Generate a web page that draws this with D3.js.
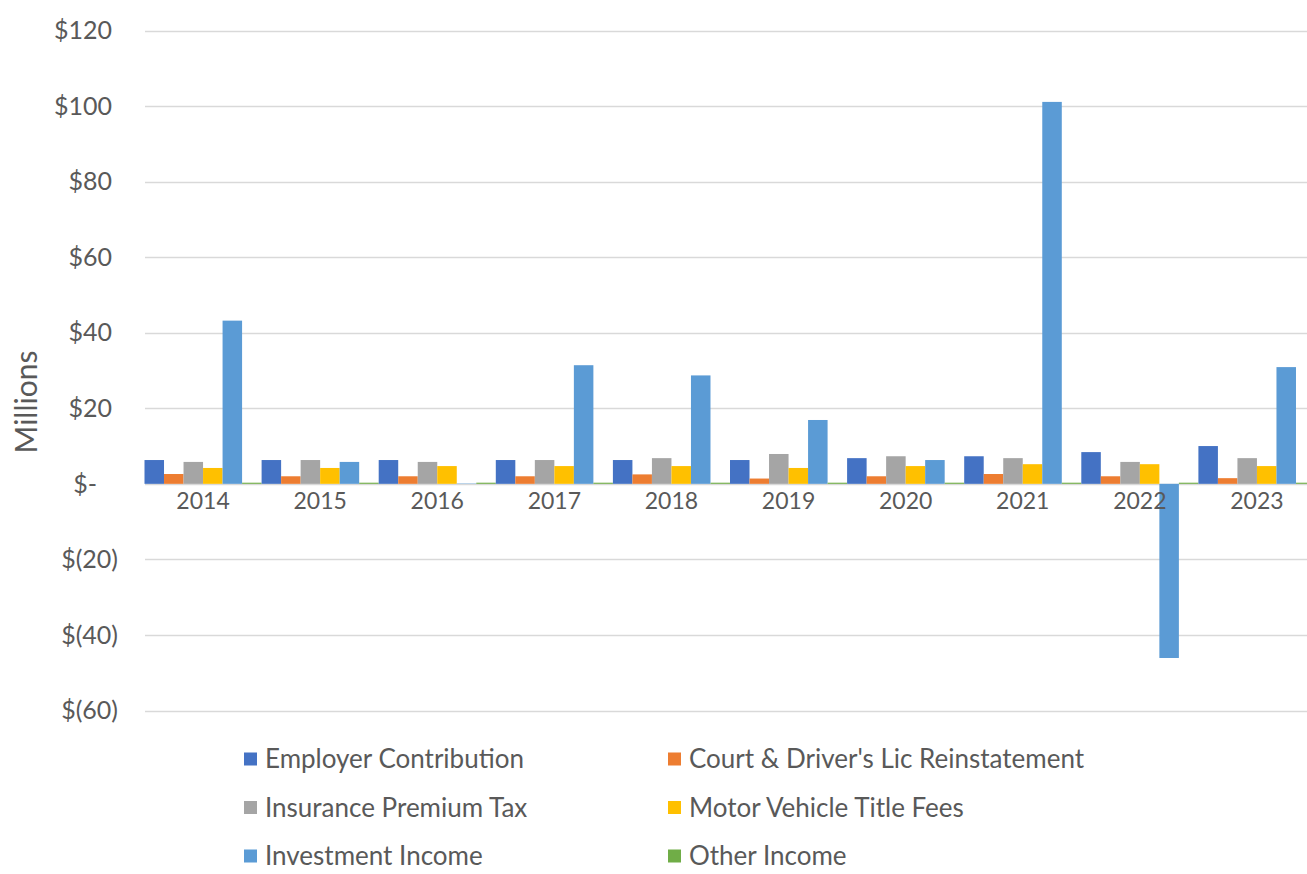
<!DOCTYPE html>
<html>
<head>
<meta charset="utf-8">
<script src="https://cdn.jsdelivr.net/npm/d3@7"></script>
<style>
  body { margin: 0; background: #fff; }
  svg { display: block; font-family: Lato, "Open Sans", sans-serif; }
</style>
</head>
<body>
<div id="chart"></div>
<script>
let years = ["2014", "2015", "2016", "2017", "2018", "2019", "2020", "2021", "2022", "2023"];

let seriesNames = [
  "Employer Contribution",
  "Court & Driver's Lic Reinstatement",
  "Insurance Premium Tax",
  "Motor Vehicle Title Fees",
  "Investment Income",
  "Other Income"
];

let seriesColors = ["#4472C4", "#ED7D31", "#A5A5A5", "#FFC000", "#5B9BD5", "#70AD47"];

// millions of dollars, one value per year
let employer   = [6.3, 6.3, 6.3, 6.3, 6.3, 6.3, 6.8, 7.3, 8.4, 10.0];
let court      = [2.6, 2.0, 2.0, 2.0, 2.5, 1.4, 2.0, 2.6, 2.0, 1.5];
let insurance  = [5.8, 6.3, 5.8, 6.3, 6.8, 7.9, 7.3, 6.8, 5.8, 6.8];
let motor      = [4.2, 4.2, 4.7, 4.7, 4.7, 4.2, 4.7, 5.2, 5.2, 4.7];
let investment = [43.2, 5.8, 0.1, 31.4, 28.7, 16.9, 6.3, 101.1, -46.1, 30.9];
let other      = [0.3, 0.3, 0.3, 0.3, 0.3, 0.3, 0.3, 0.3, 0.3, 0.3];

let yTicks = [120, 100, 80, 60, 40, 20, 0, -20, -40, -60];

let seriesValues = [employer, court, insurance, motor, investment, other];

let width = 1307, height = 874;

let svg = d3.select("#chart")
    .append("svg")
    .attr("width", width)
    .attr("height", height);

let x = d3.scaleBand()
    .domain(years)
    .range([144.5, 1315.5])
    .paddingInner(0)
    .paddingOuter(0);

let xs = d3.scaleBand()
    .domain(seriesNames)
    .range([0, x.bandwidth()]);

let y = d3.scaleLinear()
    .domain([-60, 120])
    .range([710.5, 30.5]);

let textColor = "#595959";

// gridlines
svg.append("g")
    .attr("class", "grid")
    .selectAll("line")
    .data(yTicks)
    .enter().append("line")
    .attr("x1", 145)
    .attr("x2", width)
    .attr("y1", d => Math.round(y(d)) + 0.5)
    .attr("y2", d => Math.round(y(d)) + 0.5)
    .attr("stroke", "#d9d9d9")
    .attr("stroke-width", 1.5);

// y labels in accounting style
let fmt = (d) => {
    if (d === 0) return "$-";
    if (d < 0) return `$(${-d})`;
    return `$${d}`;
};

svg.append("g")
    .attr("class", "y-labels")
    .selectAll("text")
    .data(yTicks)
    .enter().append("text")
    .attr("x", d => d < 0 ? 118 : (d === 0 ? 97 : 112))
    .attr("y", d => y(d))
    .attr("dy", "0.35em")
    .attr("text-anchor", "end")
    .attr("font-size", 25)
    .attr("fill", textColor)
    .text(fmt);

svg.append("text")
    .attr("transform", `translate(37,${402}) rotate(-90)`)
    .attr("text-anchor", "middle")
    .attr("font-size", 30)
    .attr("fill", textColor)
    .text("Millions");

// bars
let groups = svg.append("g")
    .attr("class", "bars")
    .selectAll("g")
    .data(years)
    .enter().append("g")
    .attr("transform", d => `translate(${x(d)},0)`);

groups.selectAll("rect")
    .data((yr, i) => seriesNames.map((name, k) => ({ name: name, value: seriesValues[k][i], color: seriesColors[k] })))
    .enter().append("rect")
    .attr("x", d => xs(d.name))
    .attr("width", xs.bandwidth())
    .attr("y", d => y(Math.max(0, d.value)))
    .attr("height", d => Math.abs(y(d.value) - y(0)))
    .attr("fill", d => d.color);

// x labels just below zero line
svg.append("g")
    .attr("class", "x-labels")
    .selectAll("text")
    .data(years)
    .enter().append("text")
    .attr("x", d => x(d) + x.bandwidth() / 2)
    .attr("y", y(0) + 17)
    .attr("dy", "0.35em")
    .attr("text-anchor", "middle")
    .attr("font-size", 23)
    .attr("fill", textColor)
    .text(d => d);

// legend, two columns
let legend = svg.append("g")
    .attr("class", "legend")
    .selectAll("g")
    .data(seriesNames)
    .enter().append("g")
    .attr("transform", (d, i) => `translate(${i % 2 === 0 ? 244 : 668},${759 + Math.floor(i / 2) * 48.5})`);

legend.append("rect")
    .attr("x", 0)
    .attr("y", -6.5)
    .attr("width", 13)
    .attr("height", 13)
    .attr("fill", (d, i) => seriesColors[i]);

legend.append("text")
    .attr("x", 21)
    .attr("y", 0)
    .attr("dy", "0.35em")
    .attr("font-size", 26)
    .attr("fill", textColor)
    .text(d => d);
</script>
</body>
</html>
